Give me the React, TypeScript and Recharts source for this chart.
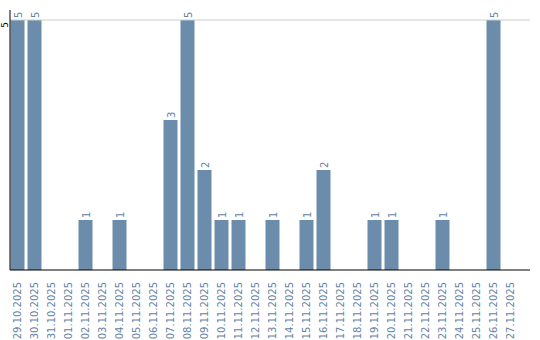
import React from 'react';
import { BarChart, Bar, XAxis, YAxis, ReferenceLine, LabelList } from 'recharts';

const categories = [
  '29.10.2025', '30.10.2025', '31.10.2025', '01.11.2025', '02.11.2025', '03.11.2025',
  '04.11.2025', '05.11.2025', '06.11.2025', '07.11.2025', '08.11.2025', '09.11.2025',
  '10.11.2025', '11.11.2025', '12.11.2025', '13.11.2025', '14.11.2025', '15.11.2025',
  '16.11.2025', '17.11.2025', '18.11.2025', '19.11.2025', '20.11.2025', '21.11.2025',
  '22.11.2025', '23.11.2025', '24.11.2025', '25.11.2025', '26.11.2025', '27.11.2025',
];
const values = [5, 5, 0, 0, 1, 0, 1, 0, 0, 3, 5, 2, 1, 1, 0, 1, 0, 1, 2, 0, 0, 1, 1, 0, 0, 1, 0, 0, 5, 0];
const yTicks = [5];

const data = categories.map((c, i) => ({ date: c, value: values[i] }));

const BAR = '#6b8cab';
const TEXT = '#6384a6';
const FONT = 'DejaVu Sans, sans-serif';

const XTick = (props: any) => {
  const { x, y, payload } = props;
  return (
    <text
      transform={`translate(${x + 4},${y + 4}) rotate(-90)`}
      textAnchor="end"
      fontSize={10}
      fontFamily={FONT}
      fill={TEXT}
    >
      {payload.value}
    </text>
  );
};

const YTick = (props: any) => {
  const { y, payload } = props;
  return (
    <text
      transform={`translate(8,${y + 5}) rotate(-90)`}
      textAnchor="middle"
      fontSize={9}
      fontFamily={FONT}
      fill="#000"
    >
      {payload.value}
    </text>
  );
};

const BarLabel = (props: any) => {
  const { x, y, width, value } = props;
  if (!value) return null;
  return (
    <text
      transform={`translate(${x + width / 2 + 4},${y - 2}) rotate(-90)`}
      textAnchor="start"
      fontSize={10}
      fontFamily={FONT}
      fill={TEXT}
    >
      {value}
    </text>
  );
};

export default function App() {
  return (
    <div style={{ position: 'absolute', left: 0, top: 0, background: '#fff' }}>
      <BarChart
        width={540}
        height={340}
        data={data}
        margin={{ top: 10, right: 10, bottom: 0, left: 0 }}
      >
        <XAxis
          dataKey="date"
          interval={0}
          height={70}
          tick={<XTick />}
          tickLine={false}
          axisLine={{ stroke: '#000' }}
          padding={{ left: -1.5, right: 11.5 }}
        />
        <YAxis
          width={10}
          domain={[0, 5.2]}
          ticks={yTicks}
          tick={<YTick />}
          tickLine={false}
          axisLine={{ stroke: '#000' }}
        />
        <ReferenceLine y={5} stroke="#cccccc" />
        <Bar dataKey="value" fill={BAR} barSize={14} isAnimationActive={false}>
          <LabelList dataKey="value" content={<BarLabel />} />
        </Bar>
      </BarChart>
    </div>
  );
}
